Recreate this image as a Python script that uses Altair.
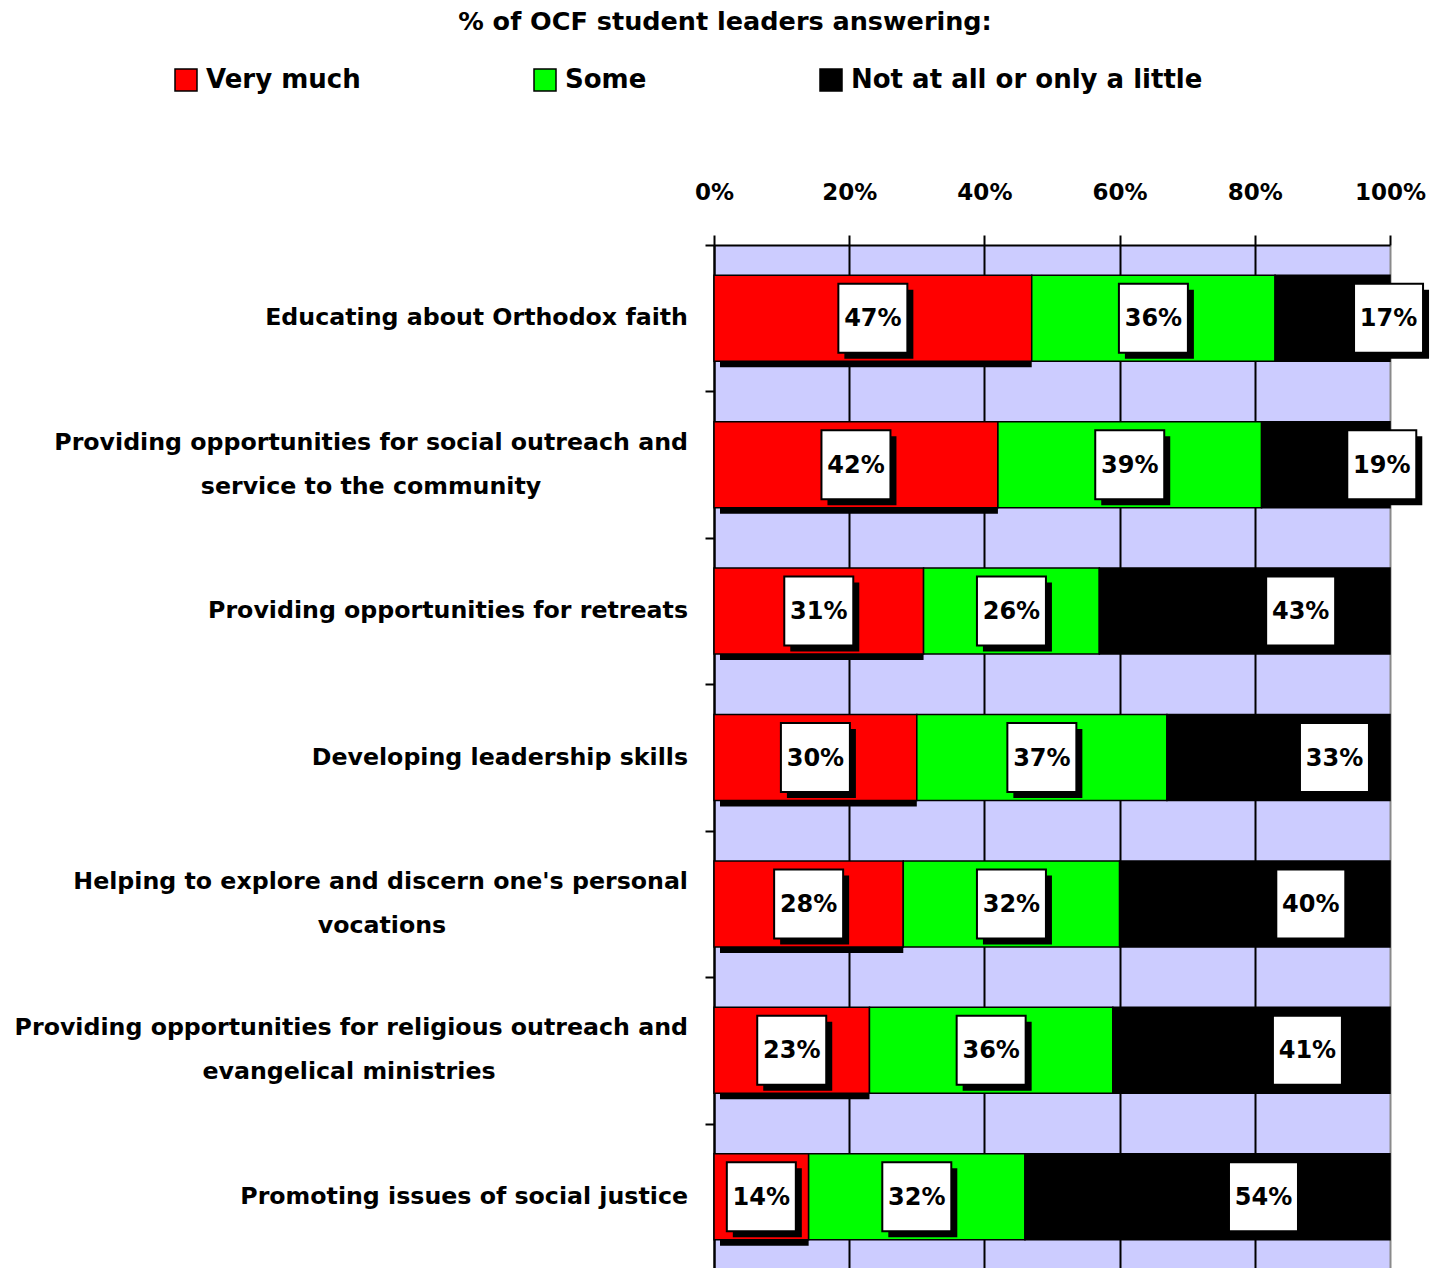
import altair as alt
import pandas as pd

title_text = "% of OCF student leaders answering:"
categories = [
    "Educating about Orthodox faith",
    "Providing opportunities for social outreach and service to the community",
    "Providing opportunities for retreats",
    "Developing leadership skills",
    "Helping to explore and discern one's personal vocations",
    "Providing opportunities for religious outreach and evangelical ministries",
    "Promoting issues of social justice",
]
label_line1 = [
    "Educating about Orthodox faith",
    "Providing opportunities for social outreach and",
    "Providing opportunities for retreats",
    "Developing leadership skills",
    "Helping to explore and discern one's personal",
    "Providing opportunities for religious outreach and",
    "Promoting issues of social justice",
]
label_line2 = ["", "service to the community", "", "", "vocations", "evangelical ministries", ""]
# horizontal centre of the second label line, in pixels from the plot's left edge
line2_center_px = [0, -343, 0, 0, -332, -365, 0]

very_much = [47, 42, 31, 30, 28, 23, 14]
some = [36, 39, 26, 37, 32, 36, 32]
not_at_all = [17, 19, 43, 33, 40, 41, 54]

series_names = ["Very much", "Some", "Not at all or only a little"]
series_colors = ["#FF0000", "#00FF00", "#000000"]
x_ticks = [0, 0.2, 0.4, 0.6, 0.8, 1.0]

FONT = "DejaVu Sans"

rows = []
for i, cat in enumerate(categories):
    start = 0
    for k, (s, vals) in enumerate(zip(series_names, [very_much, some, not_at_all])):
        v = vals[i]
        rows.append(dict(category=cat, series=s, order=k, value=v,
                         start=start / 100, end=(start + v) / 100,
                         mid=(start + v / 2) / 100, label=f"{v}%"))
        start += v
df = pd.DataFrame(rows)

lab = pd.DataFrame(dict(category=categories, line1=label_line1, line2=label_line2,
                        l2x=line2_center_px))
lab["two"] = lab["line2"] != ""

W, H = 676, 1025
BAR = 86

y_axis = alt.Axis(title=None, labels=False, ticks=True, tickBand="extent", tickSize=9,
                  tickColor="black", tickWidth=2, domainColor="black", domainWidth=2,
                  grid=False)
y_scale = alt.Scale(paddingInner=0, paddingOuter=0)
Y = alt.Y("category:N", sort=categories, scale=y_scale, axis=y_axis)

x_scale = alt.Scale(domain=[0, 1])
x_axis = alt.Axis(orient="top", format="%", values=x_ticks, title=None,
                  grid=True, labelFlush=False,
                  gridColor={"condition": {"test": "datum.value == 1", "value": "#8a8a8a"}, "value": "black"},
                  gridWidth=2, gridOpacity=1,
                  tickSize=10, tickColor="black", tickWidth=2,
                  domainColor="black", domainWidth=2,
                  labelFont=FONT, labelFontSize=23, labelFontWeight="bold", labelColor="black",
                  labelPadding=31)


def X(field):
    return alt.X(field, scale=x_scale, axis=x_axis, title=None)


base = alt.Chart(df)

shadow = base.transform_filter("datum.order == 0").mark_bar(
    color="black", xOffset=6, yOffset=6, size=BAR
).encode(x=X("start:Q"), x2="end:Q", y=Y)

bars = base.mark_bar(stroke="black", strokeWidth=1.5, size=BAR).encode(
    x=X("start:Q"), x2="end:Q", y=Y,
    color=alt.Color("series:N", sort=series_names,
                    scale=alt.Scale(domain=series_names, range=series_colors),
                    legend=alt.Legend(orient="none", legendX=-541, legendY=-178,
                                      direction="horizontal", title=None,
                                      symbolType="square", symbolSize=484,
                                      symbolStrokeColor="black", symbolStrokeWidth=1.5,
                                      labelFont=FONT, labelFontSize=26, labelFontWeight="bold",
                                      labelColor="black", labelOffset=7, columnPadding=170,
                                      padding=0, labelLimit=600)),
)


def label_layers(filt, dx):
    b = base.transform_filter(filt)
    enc = dict(x=X("mid:Q"), y=Y)
    sh = b.mark_square(size=4761, color="black", opacity=1, xOffset=dx + 6, yOffset=6).encode(**enc)
    box = b.mark_square(size=4761, fill="white", stroke="black", strokeWidth=2,
                        opacity=1, xOffset=dx).encode(**enc)
    txt = b.mark_text(font=FONT, fontSize=24, fontWeight="bold", color="black",
                      align="center", baseline="middle", dx=dx, dy=1).encode(
        text="label:N", **enc)
    return [sh, box, txt]


lab_rg = label_layers("datum.order < 2", 0)
lab_bk = label_layers("datum.order == 2", 56)

NAME_FS = 23.7
lb = alt.Chart(lab)
name_single = lb.transform_filter("!datum.two").mark_text(
    font=FONT, fontSize=NAME_FS, fontWeight="bold", color="black", align="right", baseline="middle"
).encode(x=alt.value(-26), y=Y, text="line1:N")
name_l1 = lb.transform_filter("datum.two").mark_text(
    font=FONT, fontSize=NAME_FS, fontWeight="bold", color="black", align="right", baseline="middle", dy=-22
).encode(x=alt.value(-26), y=Y, text="line1:N")
name_l2 = lb.transform_filter("datum.two").mark_text(
    font=FONT, fontSize=NAME_FS, fontWeight="bold", color="black", align="center", baseline="middle", dy=22
).encode(x=alt.X("l2x:Q", scale=None, axis=None), y=Y, text="line2:N")

title = alt.Chart(pd.DataFrame({"t": [title_text]})).mark_text(
    font=FONT, fontSize=25.5, fontWeight="bold", color="black", align="center", baseline="middle"
).encode(x=alt.value(11), y=alt.value(-223), text="t:N")

chart = alt.layer(
    shadow, bars, *lab_rg, *lab_bk, name_single, name_l1, name_l2, title
).properties(
    width=W, height=H,
    background="white",
    autosize=alt.AutoSizeParams(type="none"),
    padding={"left": 714, "top": 245, "right": 54, "bottom": 0},
).configure_view(
    fill="#CCCCFF", stroke=None
)

chart.save("out.html", embed_options={"renderer": "svg", "actions": False})
